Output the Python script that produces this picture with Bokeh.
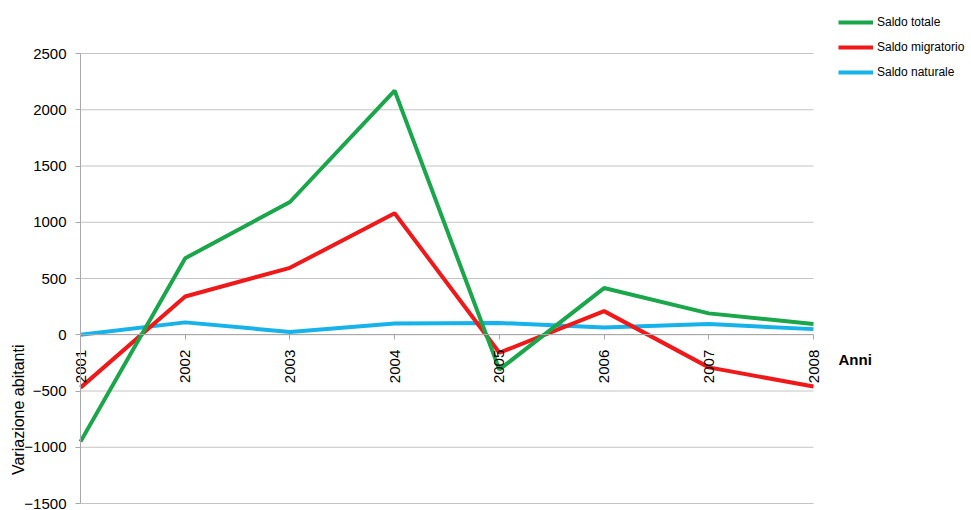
import math
from bokeh.plotting import figure
from bokeh.models import Range1d, FixedTicker, Legend, LegendItem, Label
from bokeh.embed import file_html
from bokeh.resources import INLINE

years = [2001, 2002, 2003, 2004, 2005, 2006, 2007, 2008]
saldo_totale = [-950, 680, 1180, 2170, -310, 415, 190, 95]
saldo_migratorio = [-470, 340, 595, 1080, -160, 210, -290, -460]
saldo_naturale = [0, 110, 25, 100, 105, 65, 95, 50]
y_ticks = [-1500, -1000, -500, 0, 500, 1000, 1500, 2000, 2500]
series_names = ["Saldo totale", "Saldo migratorio", "Saldo naturale"]
colors = ["#1aa64a", "#f01818", "#16b2ea"]

FONT = "Liberation Sans"
W, H = 971, 510
# plot area (pixels) in which the data span years[0]..years[-1] and y_ticks[0]..y_ticks[-1]
PL, PR, PT, PB = 80, 813, 53, 503

xs = (years[-1] - years[0]) / (PR - PL)
ys = (y_ticks[-1] - y_ticks[0]) / (PB - PT)
x_range = Range1d(years[0] - PL * xs, years[-1] + (W - PR) * xs)
y_range = Range1d(y_ticks[0] - (H - PB) * ys, y_ticks[-1] + PT * ys)

p = figure(width=W, height=H, x_range=x_range, y_range=y_range,
           output_backend="svg", toolbar_location=None, min_border=0)
p.outline_line_color = None
p.background_fill_color = "white"
p.border_fill_color = "white"
p.xgrid.visible = False
p.ygrid.visible = False

# horizontal gridlines across the plot area
p.segment(x0=years[0], x1=years[-1], y0=y_ticks, y1=y_ticks, line_color="#c4c4c4", line_width=1)

# y axis at the first year
p.yaxis.fixed_location = years[0]
p.yaxis.bounds = (y_ticks[0], y_ticks[-1])
p.yaxis.ticker = FixedTicker(ticks=y_ticks)
p.yaxis.axis_line_color = "#a8a8a8"
p.yaxis.major_tick_line_color = "#a8a8a8"
p.yaxis.major_tick_in = 0
p.yaxis.major_tick_out = 5
p.yaxis.minor_tick_line_color = None
p.yaxis.major_label_text_font = FONT
p.yaxis.major_label_text_font_size = "15px"
p.yaxis.major_label_text_color = "black"
p.yaxis.major_label_standoff = 9

# x axis at y = 0
p.xaxis.fixed_location = 0
p.xaxis.bounds = (years[0], years[-1])
p.xaxis.ticker = FixedTicker(ticks=years)
p.xaxis.axis_line_color = "#a8a8a8"
p.xaxis.major_tick_line_color = "#a8a8a8"
p.xaxis.major_tick_in = 0
p.xaxis.major_tick_out = 5
p.xaxis.minor_tick_line_color = None
p.xaxis.major_label_orientation = math.pi / 2
p.xaxis.major_label_text_font = FONT
p.xaxis.major_label_text_font_size = "15px"
p.xaxis.major_label_text_color = "black"
p.xaxis.major_label_standoff = 10

r_nat = p.line(years, saldo_naturale, line_color=colors[2], line_width=4)
r_mig = p.line(years, saldo_migratorio, line_color=colors[1], line_width=4)
r_tot = p.line(years, saldo_totale, line_color=colors[0], line_width=4)

legend = Legend(items=[LegendItem(label=series_names[0], renderers=[r_tot]),
                       LegendItem(label=series_names[1], renderers=[r_mig]),
                       LegendItem(label=series_names[2], renderers=[r_nat])],
                location=(838, 431))
legend.border_line_alpha = 0
legend.background_fill_alpha = 0
legend.padding = 0
legend.margin = 0
legend.spacing = 11
legend.glyph_width = 35
legend.glyph_height = 14
legend.label_height = 14
legend.label_standoff = 4
legend.label_text_font = FONT
legend.label_text_font_size = "12px"
legend.label_text_color = "black"
p.add_layout(legend)

title = Label(x=years[0], y=-667, x_offset=-62, text="Variazione abitanti", angle=math.pi / 2,
              text_align="center", text_baseline="middle", text_font=FONT,
              text_font_size="16px", text_color="black")
p.add_layout(title)

anni = Label(x=years[-1], y=0, x_offset=25, y_offset=-25, text="Anni", text_align="left",
             text_baseline="middle", text_font=FONT, text_font_size="15px",
             text_font_style="bold", text_color="black")
p.add_layout(anni)

open("out.html", "w").write(file_html(p, INLINE))
